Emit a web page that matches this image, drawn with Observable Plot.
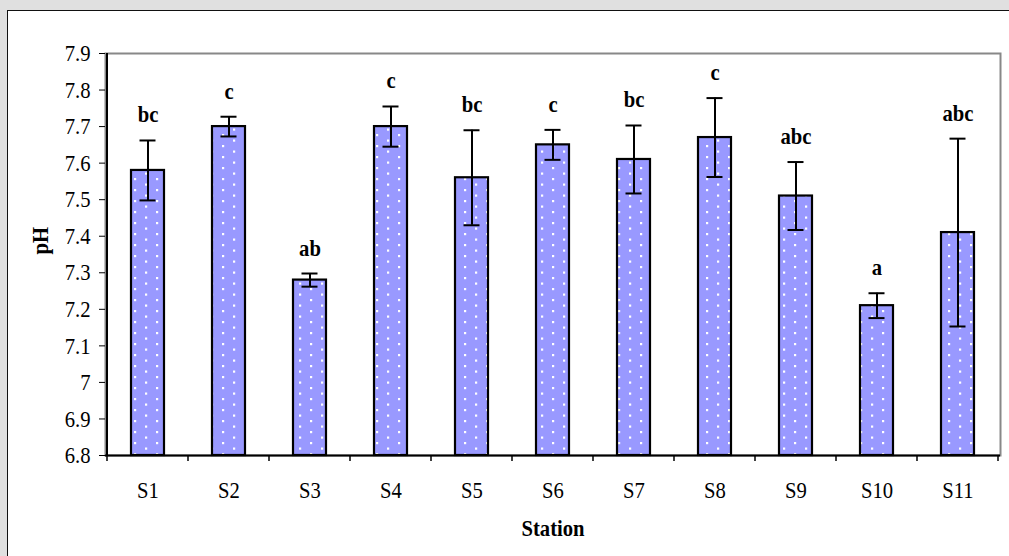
<!DOCTYPE html>
<html>
<head>
<meta charset="utf-8">
<script src="https://cdn.jsdelivr.net/npm/d3@7"></script>
<script src="https://cdn.jsdelivr.net/npm/@observablehq/plot@0.6"></script>
<style>
  html, body { margin: 0; padding: 0; background: #e0e0e0; overflow: hidden; }
  #box { position: absolute; left: 7px; top: 10px; width: 1020px; height: 560px; background: #fff;
         border-left: 1.5px solid #111; border-top: 1.5px solid #111; }
  #chart { position: absolute; left: 0; top: 0; }
</style>
</head>
<body>
<div id="box"></div>
<div id="chart"></div>
<script>
const stations = ["S1", "S2", "S3", "S4", "S5", "S6", "S7", "S8", "S9", "S10", "S11"];
const phMean = [7.58, 7.70, 7.28, 7.70, 7.56, 7.65, 7.61, 7.67, 7.51, 7.21, 7.41];
const phErr = [0.082, 0.027, 0.018, 0.055, 0.13, 0.041, 0.093, 0.108, 0.093, 0.034, 0.257];
const letters = ["bc", "c", "ab", "c", "bc", "c", "bc", "c", "abc", "a", "abc"];
const yTicks = [6.8, 6.9, 7.0, 7.1, 7.2, 7.3, 7.4, 7.5, 7.6, 7.7, 7.8, 7.9];
const yMin = 6.8, yMax = 7.9;

const data = stations.map((s, i) => ({
  station: s, mean: phMean[i], lo: phMean[i] - phErr[i], hi: phMean[i] + phErr[i], letter: letters[i]
}));

const font = "'Liberation Serif', 'Times New Roman', serif";
const fs = 24;

const chart = Plot.plot({
  width: 1009,
  height: 556,
  marginLeft: 105,
  marginRight: 9,
  marginTop: 53,
  marginBottom: 101,
  style: { fontFamily: font, fontSize: fs + "px", color: "#000", background: "transparent", overflow: "visible" },
  x: { domain: stations, paddingInner: 0.595, paddingOuter: 0.2975, align: 0.5 },
  y: { domain: [yMin, yMax] },
  marks: [
    Plot.frame({ stroke: "#888", strokeWidth: 2 }),
    Plot.barY(data, { x: "station", y1: () => yMin, y2: "mean", fill: "url(#dots)", stroke: "#000", strokeWidth: 2.2 }),
    Plot.ruleX(data, { x: "station", y1: "lo", y2: "hi", stroke: "#000", strokeWidth: 2 }),
    Plot.tickY(data, { x: "station", y: "hi", stroke: "#000", strokeWidth: 2, insetLeft: 8.5, insetRight: 8.5 }),
    Plot.tickY(data, { x: "station", y: "lo", stroke: "#000", strokeWidth: 2, insetLeft: 8.5, insetRight: 8.5 }),
    Plot.text(data, { x: "station", y: "hi", text: "letter", lineAnchor: "bottom", dy: -18, fontWeight: "bold", fontSize: fs, fill: "#000" }),
    Plot.ruleY([yMin], { stroke: "#000", strokeWidth: 2 }),
    Plot.axisY({ ticks: yTicks, tickSize: 6, tickPadding: 9, tickFormat: d => String(+d.toFixed(1)), label: null, stroke: "#000", fontSize: fs }),
    Plot.axisX({ tickSize: 0, tickPadding: 25, label: null, fontSize: fs }),
    Plot.text(["pH"], { frameAnchor: "left", dx: -65, rotate: -90, text: d => d, fontWeight: "bold", fontSize: fs, fill: "#000" }),
    Plot.text(["Station"], { frameAnchor: "bottom", dy: 80, text: d => d, fontWeight: "bold", fontSize: fs, fill: "#000" })
  ]
});

document.getElementById("chart").appendChild(chart);

const svg = d3.select(chart);

// reference text is narrow relative to its height: compress glyphs horizontally
svg.selectAll("text").each(function () {
  const L = this.getComputedTextLength();
  if (L > 0) {
    this.setAttribute("textLength", (L * 0.86).toFixed(2));
    this.setAttribute("lengthAdjust", "spacingAndGlyphs");
  }
});

// dotted fill pattern
const defs = svg.insert("defs", ":first-child");
const pat = defs.append("pattern").attr("id", "dots").attr("patternUnits", "userSpaceOnUse")
  .attr("width", 22).attr("height", 11);
pat.append("rect").attr("width", 22).attr("height", 11).attr("fill", "#9999ff");
pat.append("rect").attr("x", 2).attr("y", 2).attr("width", 2.2).attr("height", 2.2).attr("fill", "#fff");
pat.append("rect").attr("x", 13).attr("y", 7.5).attr("width", 2.2).attr("height", 2.2).attr("fill", "#fff");

// axis line and category-boundary ticks from the library's scales
const sx = chart.scale("x"), sy = chart.scale("y");
const y0 = sy.apply(yMin), y1 = sy.apply(yMax);
const off = (sx.step - sx.bandwidth) / 2;
const bounds = stations.map(s => sx.apply(s) - off);
bounds.push(bounds[bounds.length - 1] + sx.step);
const g = svg.append("g");
g.selectAll("line.tk").data(bounds).join("line")
  .attr("x1", d => d).attr("x2", d => d).attr("y1", y0).attr("y2", y0 + 6)
  .attr("stroke", "#000").attr("stroke-width", 1.5);
g.append("line").attr("x1", bounds[0]).attr("x2", bounds[0]).attr("y1", y1).attr("y2", y0 + 1)
  .attr("stroke", "#000").attr("stroke-width", 2);
</script>
</body>
</html>
